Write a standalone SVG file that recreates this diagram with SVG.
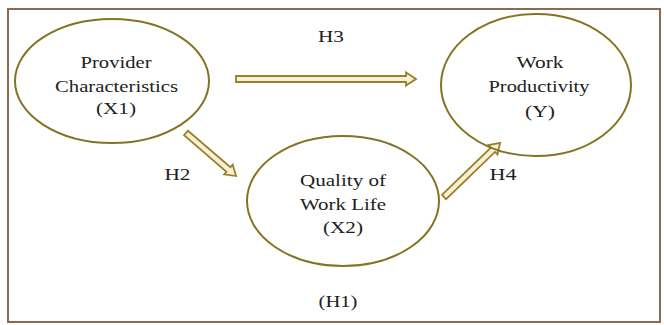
<svg xmlns="http://www.w3.org/2000/svg" width="664" height="325" viewBox="0 0 664 325">
<style>
.node{fill:none;stroke:#857322;stroke-width:2}
.t{font-family:"Liberation Serif",serif;font-size:17px;fill:#1e1e1e;text-anchor:middle}
.arr{fill:#F7F0D8;stroke:#9C8028;stroke-width:1.8;stroke-linejoin:miter}
</style>
<rect x="0" y="0" width="664" height="325" fill="#fff"/>
<rect x="8" y="9" width="652" height="313" fill="none" stroke="#8B6A50" stroke-width="2"/>
<g id="connectors">
<polygon class="arr" transform="translate(236,79)" points="0,-3 170,-3 170,-6.5 180,0 170,6.5 170,3 0,3"/>
<polygon class="arr" transform="translate(186,133) rotate(40.7)" points="0,-3 56,-3 56,-6.5 66,0 56,6.5 56,3 0,3"/>
<polygon class="arr" transform="translate(444,197) rotate(-44)" points="0,-3 68,-3 68,-6.5 78,0 68,6.5 68,3 0,3"/>
<text class="t" x="331" y="42" textLength="26" lengthAdjust="spacingAndGlyphs">H3</text>
<text class="t" x="177.5" y="180" textLength="26" lengthAdjust="spacingAndGlyphs">H2</text>
<text class="t" x="503" y="180" textLength="27" lengthAdjust="spacingAndGlyphs">H4</text>
<text class="t" x="338" y="307" textLength="39" lengthAdjust="spacingAndGlyphs">(H1)</text>
</g>
<g id="x1">
<ellipse class="node" cx="112" cy="81" rx="97" ry="62"/>
<text class="t" x="116" y="68" textLength="71" lengthAdjust="spacingAndGlyphs">Provider</text>
<text class="t" x="116.5" y="91.5" textLength="123" lengthAdjust="spacingAndGlyphs">Characteristics</text>
<text class="t" x="116" y="114" textLength="40" lengthAdjust="spacingAndGlyphs">(X1)</text>
</g>
<g id="y">
<ellipse class="node" cx="536" cy="85" rx="95" ry="71"/>
<text class="t" x="540" y="68" textLength="47" lengthAdjust="spacingAndGlyphs">Work</text>
<text class="t" x="539" y="92" textLength="101" lengthAdjust="spacingAndGlyphs">Productivity</text>
<text class="t" x="540" y="116.5" textLength="30" lengthAdjust="spacingAndGlyphs">(Y)</text>
</g>
<g id="x2">
<ellipse class="node" cx="343" cy="201" rx="96" ry="65"/>
<text class="t" x="343" y="186" textLength="86" lengthAdjust="spacingAndGlyphs">Quality of</text>
<text class="t" x="343" y="209.5" textLength="86" lengthAdjust="spacingAndGlyphs">Work Life</text>
<text class="t" x="343" y="233" textLength="40" lengthAdjust="spacingAndGlyphs">(X2)</text>
</g>
</svg>
